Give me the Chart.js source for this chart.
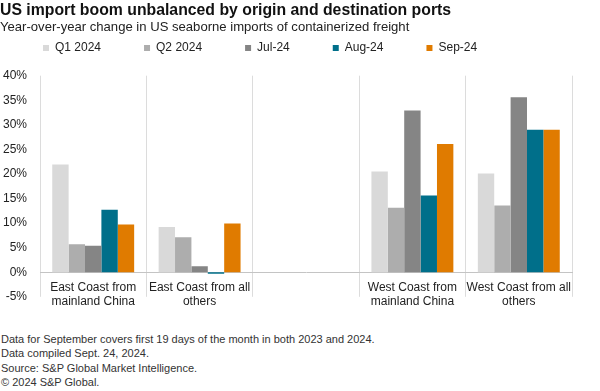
<!DOCTYPE html>
<html>
<head>
<meta charset="utf-8">
<script src="https://cdn.jsdelivr.net/npm/chart.js@4"></script>
<style>
  body { margin: 0; background: #fff; font-family: "Liberation Sans", Arial, sans-serif; }
  #wrap { position: relative; width: 600px; height: 391px; }
  #box { position: absolute; left: 0; top: 0; width: 600px; height: 317px; }
  #notes { position: absolute; left: 1px; top: 332px; font-size: 11px; line-height: 14.4px; color: #333; }
</style>
</head>
<body>
<div id="wrap">
  <div id="box"><canvas id="grafico"></canvas></div>
  <div id="notes">
    Data for September covers first 19 days of the month in both 2023 and 2024.<br>
    Data compiled Sept. 24, 2024.<br>
    Source: S&amp;P Global Market Intelligence.<br>
    © 2024 S&amp;P Global.
  </div>
</div>
<script>
const categorias = [
  ["East Coast from", "mainland China"],
  ["East Coast from all", "others"],
  "",
  ["West Coast from", "mainland China"],
  ["West Coast from all", "others"]
];
const q1 = [21.9, 9.2, null, 20.5, 20.1];
const q2 = [5.7, 7.1, null, 13.1, 13.6];
const jul = [5.4, 1.2, null, 32.9, 35.6];
const ago = [12.7, -0.3, null, 15.6, 29.0];
const set = [9.7, 9.9, null, 26.1, 29.0];
const yTicks = [-5, 0, 5, 10, 15, 20, 25, 30, 35, 40];

const fonte = "'Liberation Sans', Arial, sans-serif";

function serie(label, data, cor) {
  return {
    label: label,
    data: data,
    backgroundColor: cor,
    borderWidth: 0,
    categoryPercentage: 0.77,
    barPercentage: 1.0
  };
}

// legenda: espaçamento horizontal largo sem ocupar tanto espaço vertical
const ajusteLegenda = {
  id: "ajusteLegenda",
  beforeLayout(chart) {
    const leg = chart.legend;
    if (leg && !leg._ajustado) {
      const fitOriginal = leg.fit.bind(leg);
      leg.fit = function () {
        fitOriginal();
        this.height = 40;
      };
      leg._ajustado = true;
    }
  },
  afterLayout(chart) {
    const leg = chart.legend;
    if (!leg) return;
    const pad = leg.options.labels.padding;
    leg.top = 49 - pad - 7; // bottom fica onde está
  }
};

const ctx = document.getElementById("grafico").getContext("2d");
new Chart(ctx, {
  type: "bar",
  data: {
    labels: categorias,
    datasets: [
      serie("Q1 2024", q1, "#d9d9d9"),
      serie("Q2 2024", q2, "#adadad"),
      serie("Jul-24", jul, "#858585"),
      serie("Aug-24", ago, "#006f8a"),
      serie("Sep-24", set, "#e07b00")
    ]
  },
  plugins: [ajusteLegenda],
  options: {
    responsive: true,
    maintainAspectRatio: false,
    animation: false,
    layout: { padding: { left: 0, right: 28, top: 0, bottom: 5 } },
    plugins: {
      title: {
        display: true,
        text: "US import boom unbalanced by origin and destination ports",
        align: "start",
        color: "#111",
        font: { family: fonte, size: 15.8, weight: "bold" },
        padding: { top: 1, bottom: 0 }
      },
      subtitle: {
        display: true,
        text: "Year-over-year change in US seaborne imports of containerized freight",
        align: "start",
        color: "#222",
        font: { family: fonte, size: 13.1 },
        padding: { top: 0, bottom: 0 }
      },
      legend: {
        position: "top",
        align: "start",
        labels: {
          boxWidth: 6,
          boxHeight: 6,
          padding: 43,
          color: "#222",
          font: { family: fonte, size: 12 }
        }
      },
      tooltip: { enabled: false }
    },
    scales: {
      x: {
        position: { y: 0 },
        grid: { display: true, color: "#dcdcdc", drawTicks: false, offset: true },
        border: { display: true, color: "#c4c4c4" },
        ticks: { color: "#222", font: { family: fonte, size: 12 }, padding: 8, maxRotation: 0, autoSkip: false }
      },
      y: {
        min: -5,
        max: 40,
        afterBuildTicks: (axis) => { axis.ticks = yTicks.map(v => ({ value: v })); },
        afterFit: (axis) => { axis.width = 40; },
        grid: { display: false, drawTicks: false },
        border: { display: false },
        ticks: {
          color: "#222",
          padding: 13,
          font: { family: fonte, size: 12 },
          callback: (v) => v + "%"
        }
      }
    }
  }
});
</script>
</body>
</html>
